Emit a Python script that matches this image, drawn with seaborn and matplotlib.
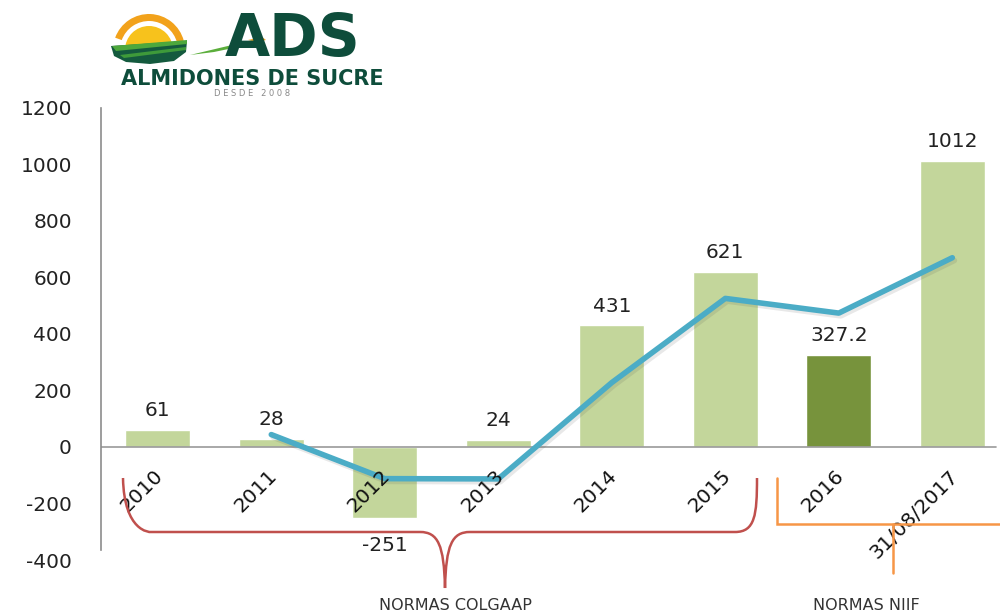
import matplotlib
matplotlib.use("Agg")
import matplotlib.pyplot as plt
import matplotlib.patheffects as pe
from matplotlib.patches import Wedge, Polygon
from matplotlib.path import Path
from matplotlib.patches import PathPatch
import seaborn as sns
import pandas as pd

# ---- data ----
categories = ["2010", "2011", "2012", "2013", "2014", "2015", "2016", "31/08/2017"]
values = [61, 28, -251, 24, 431, 621, 327.2, 1012]
value_labels = ["61", "28", "-251", "24", "431", "621", "327.2", "1012"]
trend_x = [1, 2, 3, 4, 5, 6, 7]
trend_values = [44, -112, -113, 228, 526, 474, 670]
y_ticks = [-400, -200, 0, 200, 400, 600, 800, 1000, 1200]

LIGHT_GREEN = "#C3D69B"
DARK_GREEN = "#77933C"
bar_colors = [LIGHT_GREEN] * 6 + [DARK_GREEN, LIGHT_GREEN]

sns.set_theme(style="white")
plt.rcParams["font.family"] = ["DejaVu Sans"]

W, H = 1000, 615
fig = plt.figure(figsize=(W / 100, H / 100), dpi=100)
fig.patch.set_facecolor("white")

# main chart area
ax = fig.add_axes([101 / W, 1 - 560 / H, 899 / W, (560 - 108) / H])
df = pd.DataFrame({"cat": categories, "val": values})
sns.barplot(data=df, x="cat", y="val", hue="cat", palette=bar_colors,
            legend=False, width=0.57, ax=ax, saturation=1)

tdf = pd.DataFrame({"x": trend_x, "y": trend_values})
sns.lineplot(data=tdf, x="x", y="y", ax=ax, color="#4BACC6", linewidth=4,
             path_effects=[pe.SimpleLineShadow(offset=(1.5, -2), alpha=0.12, shadow_color="#444444"),
                           pe.Normal()])

ax.set_xlim(-0.5, 7.42)
ax.set_ylim(-400, 1200)
ax.set_yticks(y_ticks)
ax.set_yticklabels([str(t) for t in y_ticks], fontsize=14.5, color="#222222")
ax.tick_params(axis="y", length=0, pad=21)
ax.set_xticks([])
ax.set_xlabel("")
ax.set_ylabel("")
for s in ["top", "right", "bottom"]:
    ax.spines[s].set_visible(False)
ax.spines["left"].set_color("#8C8C8C")
ax.spines["left"].set_linewidth(1.2)
ax.spines["left"].set_bounds(-365, 1200)
ax.axhline(0, color="#9A9A9A", linewidth=1.2, xmin=0, xmax=0.995, zorder=1)

# value labels
for i, (v, lab) in enumerate(zip(values, value_labels)):
    if v >= 0:
        ax.annotate(lab, xy=(i, v), xytext=(0, 7), textcoords="offset points",
                    ha="center", va="bottom", fontsize=14.5, color="#222222")
    else:
        ax.annotate(lab, xy=(i, v), xytext=(0, -13), textcoords="offset points",
                    ha="center", va="top", fontsize=14.5, color="#222222")

# rotated category labels along the zero line
for i, c in enumerate(categories):
    ax.annotate(c, xy=(i, 0), xytext=(-3, -14), textcoords="offset points",
                rotation=45, rotation_mode="anchor", ha="right", va="top",
                fontsize=14.5, color="#111111", zorder=5)

# overlay in pixel coordinates for braces and logo
ov = fig.add_axes([0, 0, 1, 1], facecolor="none")
ov.set_xlim(0, W)
ov.set_ylim(H, 0)
ov.axis("off")

# curly brace for the COLGAAP period
red = "#C0504D"
brace = Path(
    [(123, 478), (124, 532), (150, 532), (150, 532),
     (150, 532), (420, 532), (420, 532),
     (438, 532), (444, 545), (445, 588),
     (446, 545), (452, 532), (470, 532),
     (470, 532), (735, 532), (735, 532),
     (755, 532), (757, 515), (757, 478)],
    [Path.MOVETO, Path.CURVE4, Path.CURVE4, Path.CURVE4,
     Path.LINETO, Path.LINETO, Path.LINETO,
     Path.CURVE4, Path.CURVE4, Path.CURVE4,
     Path.CURVE4, Path.CURVE4, Path.CURVE4,
     Path.LINETO, Path.LINETO, Path.LINETO,
     Path.CURVE4, Path.CURVE4, Path.CURVE4])
ov.add_patch(PathPatch(brace, fill=False, edgecolor=red, linewidth=1.8))

# square bracket for the NIIF period
orange = "#F79646"
ov.plot([777, 777, 1000], [478, 524, 524], color=orange, linewidth=1.8, solid_joinstyle="miter")
ov.plot([893, 893], [524, 573], color=orange, linewidth=1.8)

ov.text(455, 606, "NORMAS COLGAAP", ha="center", va="center", fontsize=11.5, color="#333333")
ov.text(866, 606, "NORMAS NIIF", ha="center", va="center", fontsize=11.5, color="#333333")

# logo (y grows downward in this overlay, so upward arcs use 180..360 degrees)
ov.add_patch(Wedge((149, 50), 36, 200, 345, width=7, facecolor="#F2A21B", edgecolor="none"))
ov.add_patch(Wedge((149, 50), 24, 180, 360, facecolor="#F7C21C", edgecolor="none"))
ov.add_patch(Polygon([(111, 46), (187, 41), (186, 52), (174, 61), (150, 64), (126, 62), (114, 56)],
                     closed=True, facecolor="#145A3E", edgecolor="none"))
ov.add_patch(Polygon([(112, 46), (187, 40), (187, 44), (116, 51)],
                     closed=True, facecolor="#4DA83C", edgecolor="none"))
ov.add_patch(Polygon([(120, 55), (186, 47), (186, 50), (124, 58)],
                     closed=True, facecolor="#3E9A3A", edgecolor="none"))
ov.add_patch(Polygon([(190, 55), (232, 45), (258, 39), (262, 42), (214, 52)],
                     closed=True, facecolor="#5BAE3B", edgecolor="none"))
ov.add_patch(Polygon([(248, 40), (262, 37), (266, 40), (258, 42)],
                     closed=True, facecolor="#F2A21B", edgecolor="none"))
ov.text(293, 56, "ADS", ha="center", va="baseline", fontsize=42, fontweight="bold",
        color="#0E4D3B")
ov.text(252, 79, "ALMIDONES DE SUCRE", ha="center", va="center", fontsize=15,
        fontweight="bold", color="#0E4D3B")
ov.text(252, 94, "D E S D E   2 0 0 8", ha="center", va="center", fontsize=6,
        color="#888888")

fig.savefig("out.png", dpi=100, facecolor="white")
